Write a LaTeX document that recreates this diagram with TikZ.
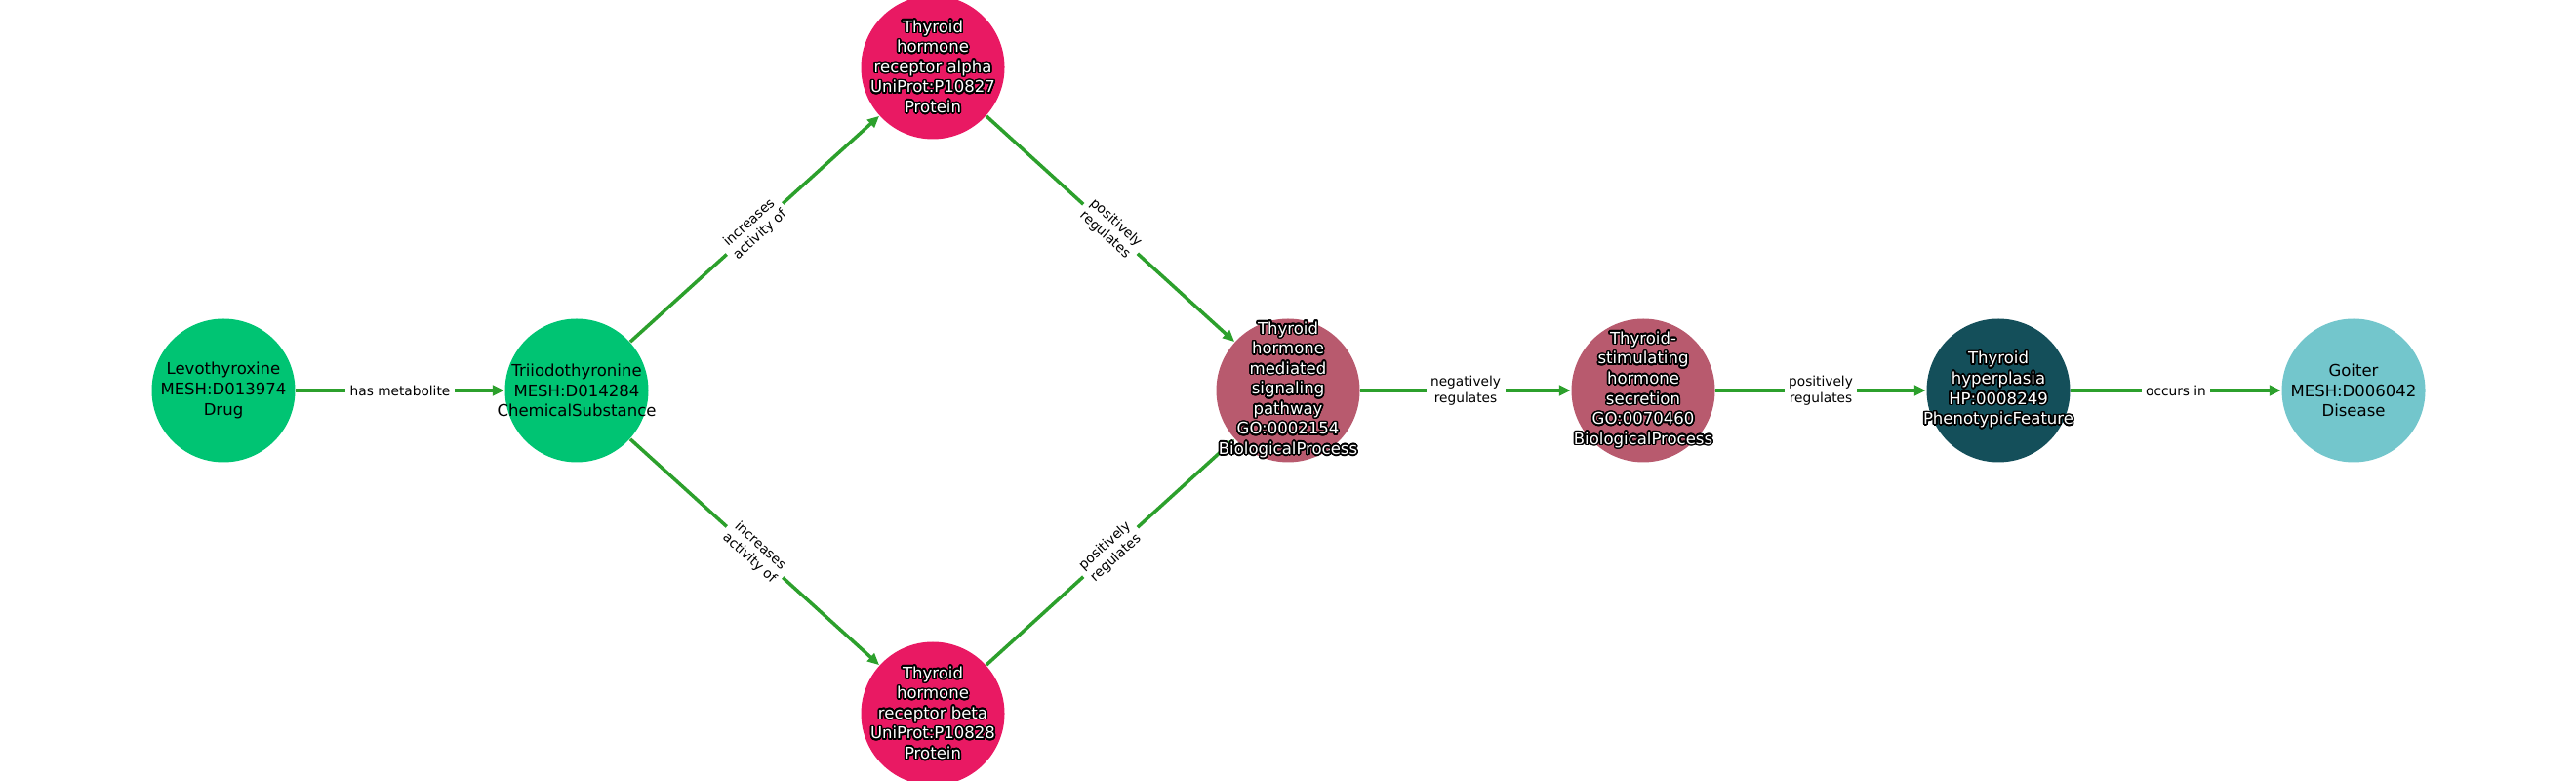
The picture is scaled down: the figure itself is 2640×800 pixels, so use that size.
\documentclass[tikz,border=0pt]{standalone}
\usepackage{fontspec}
\setmainfont{DejaVu Sans}
\usepackage{contour}
\contourlength{0.45pt}
\contournumber{24}
\usetikzlibrary{arrows.meta}
\definecolor{cgreen}{HTML}{00C473}
\definecolor{cpink}{HTML}{E91963}
\definecolor{cmauve}{HTML}{B85A6E}
\definecolor{cteal}{HTML}{144F5A}
\definecolor{clight}{HTML}{73C6CC}
\definecolor{egreen}{HTML}{2CA02C}
\newcommand\hl[1]{\contour{black}{#1}}
\begin{document}
\begin{tikzpicture}[x=0.1mm,y=-0.1mm,
  dot/.style={circle,minimum size=14.7mm,inner sep=0pt,draw=none},
  ntxt/.style={align=center,inner sep=0pt,text=black,font=\fontsize{4.7pt}{5.85pt}\selectfont},
  wtxt/.style={ntxt,text=white},
  edge/.style={draw=egreen,line width=1pt,-{Triangle[length=3.4pt,width=3pt]}},
  elabel/.style={fill=white,inner xsep=1.3pt,inner ysep=0.8pt,align=center,text=black,font=\fontsize{3.9pt}{4.7pt}\selectfont}
]
\useasboundingbox (0,0) rectangle (2640,800);
% circles
\node[dot,fill=cgreen] (lev) at (229,400) {};
\node[dot,fill=cgreen] (tri) at (591,400) {};
\node[dot,fill=cpink]  (tra) at (956,69) {};
\node[dot,fill=cpink]  (trb) at (956,731) {};
\node[dot,fill=cmauve] (pw)  at (1320,400) {};
\node[dot,fill=cmauve] (tsh) at (1684,400) {};
\node[dot,fill=cteal]  (hyp) at (2048,400) {};
\node[dot,fill=clight] (goi) at (2412,400) {};
% edges
\draw[edge] (lev) -- node[elabel] (e1) {has metabolite} (tri);
\draw[edge] (tri) -- node[elabel,sloped] (e2) {increases\\activity of} (tra);
\draw[edge] (tri) -- node[elabel,sloped] (e3) {increases\\activity of} (trb);
\draw[edge] (tra) -- node[elabel,sloped] (e4) {positively\\regulates} (pw);
\draw[edge] (trb) -- node[elabel,sloped] (e5) {positively\\regulates} (pw);
\draw[edge] (pw) -- node[elabel] (e6) {negatively\\regulates} (tsh);
\draw[edge] (tsh) -- node[elabel] (e7) {positively\\regulates} (hyp);
\draw[edge] (hyp) -- node[elabel] (e8) {occurs in} (goi);
% texts
\node[ntxt] (levt) at (lev) {Levothyroxine\\MESH:D013974\\Drug};
\node[ntxt] (trit) at (tri) {Triiodothyronine\\MESH:D014284\\ChemicalSubstance};
\node[wtxt] (trat) at (tra) {\hl{Thyroid}\\\hl{hormone}\\\hl{receptor alpha}\\\hl{UniProt:P10827}\\\hl{Protein}};
\node[wtxt] (trbt) at (trb) {\hl{Thyroid}\\\hl{hormone}\\\hl{receptor beta}\\\hl{UniProt:P10828}\\\hl{Protein}};
\node[wtxt] (pwt) at (pw) {\hl{Thyroid}\\\hl{hormone}\\\hl{mediated}\\\hl{signaling}\\\hl{pathway}\\\hl{GO:0002154}\\\hl{BiologicalProcess}};
\node[wtxt] (tsht) at (tsh) {\hl{Thyroid-}\\\hl{stimulating}\\\hl{hormone}\\\hl{secretion}\\\hl{GO:0070460}\\\hl{BiologicalProcess}};
\node[wtxt] (hypt) at (hyp) {\hl{Thyroid}\\\hl{hyperplasia}\\\hl{HP:0008249}\\\hl{PhenotypicFeature}};
\node[ntxt] (goit) at (goi) {Goiter\\MESH:D006042\\Disease};
\end{tikzpicture}
\end{document}
